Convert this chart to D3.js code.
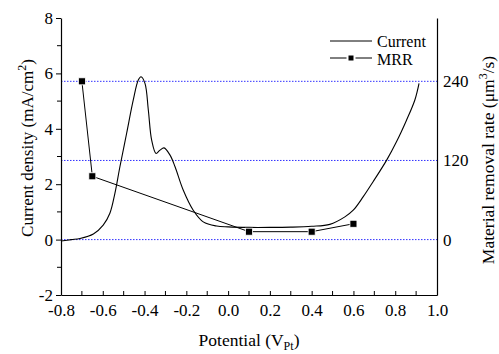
<!DOCTYPE html>
<html><head><meta charset="utf-8">
<script src="https://cdn.jsdelivr.net/npm/d3@7"></script>
<style>body{margin:0;background:#fff}svg{display:block}text{font-family:"Liberation Serif","Times New Roman",serif;fill:#000}</style>
</head><body><svg id="c" width="499" height="354"></svg>
<script>
const potential = [-0.8,-0.75,-0.709,-0.645,-0.598,-0.566,-0.542,-0.518,-0.486,-0.454,-0.43,-0.417,-0.398,-0.382,-0.366,-0.345,-0.326,-0.307,-0.278,-0.254,-0.215,-0.167,-0.119,-0.055,0.0,0.1,0.2,0.3,0.4,0.487,0.559,0.599,0.647,0.694,0.759,0.806,0.854,0.894,0.914];
const current = [-0.05,0.0,0.04,0.2,0.52,0.95,1.67,2.63,3.83,5.04,5.76,5.88,5.64,4.68,3.59,3.11,3.23,3.31,3.05,2.63,1.79,1.06,0.64,0.49,0.46,0.44,0.44,0.45,0.48,0.55,0.82,1.06,1.55,2.09,2.87,3.53,4.31,5.04,5.64];
const mrrPotential = [-0.7,-0.65,0.1,0.4,0.6];
const mrrValues = [240,96,12,12,24];
const xTicks = [-0.8,-0.6,-0.4,-0.2,0.0,0.2,0.4,0.6,0.8,1.0];
const yTicks = [-2,0,2,4,6,8];
const y2Ticks = [0,120,240];

const svg = d3.select("#c");
const L=61,R=437,T=18,B=295;
const FONT = "Liberation Serif";
const x = d3.scaleLinear().domain([-0.8,1.0]).range([L,R]);
const y = d3.scaleLinear().domain([-2,8]).range([B,T]);
const y2 = d3.scaleLinear().domain([-84,336]).range([B,T]);
const hy = s => s.replace("\u2212","-");

// grid lines (blue dotted)
svg.append("g").selectAll("line").data(y2Ticks).join("line")
  .attr("x1",L).attr("x2",R).attr("y1",d=>y2(d)).attr("y2",d=>y2(d))
  .attr("stroke","#3030ff").attr("stroke-width",1).attr("stroke-dasharray","1.5,1.5");

// current curve
const line = d3.line().x(d=>x(d[0])).y(d=>y(d[1])).curve(d3.curveCatmullRom.alpha(0.5));
svg.append("path").datum(potential.map((p,i)=>[p,current[i]]))
  .attr("d",line).attr("fill","none").attr("stroke","#000").attr("stroke-width",1.1);

// MRR
const mline = d3.line().x(d=>x(d[0])).y(d=>y2(d[1]));
const mdata = mrrPotential.map((p,i)=>[p,mrrValues[i]]);
svg.append("path").datum(mdata).attr("d",mline).attr("fill","none").attr("stroke","#000").attr("stroke-width",1);
svg.append("g").selectAll("rect").data(mdata).join("rect")
  .attr("x",d=>x(d[0])-3.5).attr("y",d=>y2(d[1])-3.5).attr("width",7).attr("height",7)
  .attr("fill","#000").attr("stroke","#fff").attr("stroke-width",0.8);

// axes
const xAxis = d3.axisBottom(x).tickValues(xTicks).tickFormat(d=>hy(d3.format(".1f")(d))).tickSizeInner(-4).tickSizeOuter(0).tickPadding(9);
const gx = svg.append("g").attr("transform",`translate(0,${B})`).call(xAxis);
gx.selectAll("line").attr("stroke","#000");
gx.append("g").selectAll("line").data(d3.range(-0.7,1.0,0.2)).join("line")
  .attr("x1",d=>x(d)).attr("x2",d=>x(d)).attr("y1",0).attr("y2",-4).attr("stroke","#000");

const yAxis = d3.axisLeft(y).tickValues(yTicks).tickFormat(d=>hy(String(d))).tickSizeInner(5).tickSizeOuter(0).tickPadding(3);
const gy = svg.append("g").attr("transform",`translate(${L},0)`).call(yAxis);
gy.append("g").selectAll("line").data([-1,1,3,5,7]).join("line")
  .attr("x1",0).attr("x2",-4).attr("y1",d=>y(d)).attr("y2",d=>y(d)).attr("stroke","#000");

const y2Axis = d3.axisRight(y2).tickValues(y2Ticks).tickSize(0).tickSizeOuter(0).tickPadding(6);
const gy2 = svg.append("g").attr("transform",`translate(${R},0)`).call(y2Axis);

[gx,gy,gy2].forEach(g=>{
  g.attr("font-family",FONT).attr("font-size",17);
  g.select(".domain").attr("stroke","#000").attr("stroke-width",1.2);
  g.selectAll("text").attr("fill","#000");
});

// titles
const xt = svg.append("text").attr("x",(L+R)/2).attr("y",346).attr("text-anchor","middle").attr("font-family",FONT).attr("font-size",17.5);
xt.append("tspan").text("Potential (V");
xt.append("tspan").text("Pt").attr("font-size",12).attr("dy",4);
xt.append("tspan").text(")").attr("dy",-4);

const yt = svg.append("text").attr("transform","translate(33,148) rotate(-90)").attr("text-anchor","middle").attr("font-family",FONT).attr("font-size",17);
yt.append("tspan").text("Current density (mA/cm");
yt.append("tspan").text("2").attr("font-size",12).attr("dy",-7);
yt.append("tspan").text(")").attr("dy",7);

const y2t = svg.append("text").attr("transform","translate(494,160) rotate(-90)").attr("text-anchor","middle").attr("font-family",FONT).attr("font-size",17.5);
y2t.append("tspan").text("Material removal rate (μm");
y2t.append("tspan").text("3").attr("font-size",12).attr("dy",-7);
y2t.append("tspan").text("/s)").attr("dy",7);

// legend
const lg = svg.append("g").attr("font-family",FONT).attr("font-size",16);
lg.append("line").attr("x1",330).attr("x2",372).attr("y1",41).attr("y2",41).attr("stroke","#000");
lg.append("text").attr("x",377).attr("y",46.5).text("Current");
lg.append("line").attr("x1",330).attr("x2",372).attr("y1",58).attr("y2",58).attr("stroke","#000");
lg.append("rect").attr("x",347.5).attr("y",54.5).attr("width",7).attr("height",7).attr("fill","#000").attr("stroke","#fff").attr("stroke-width",2);
lg.append("text").attr("x",377).attr("y",64.5).text("MRR");
</script></body></html>
